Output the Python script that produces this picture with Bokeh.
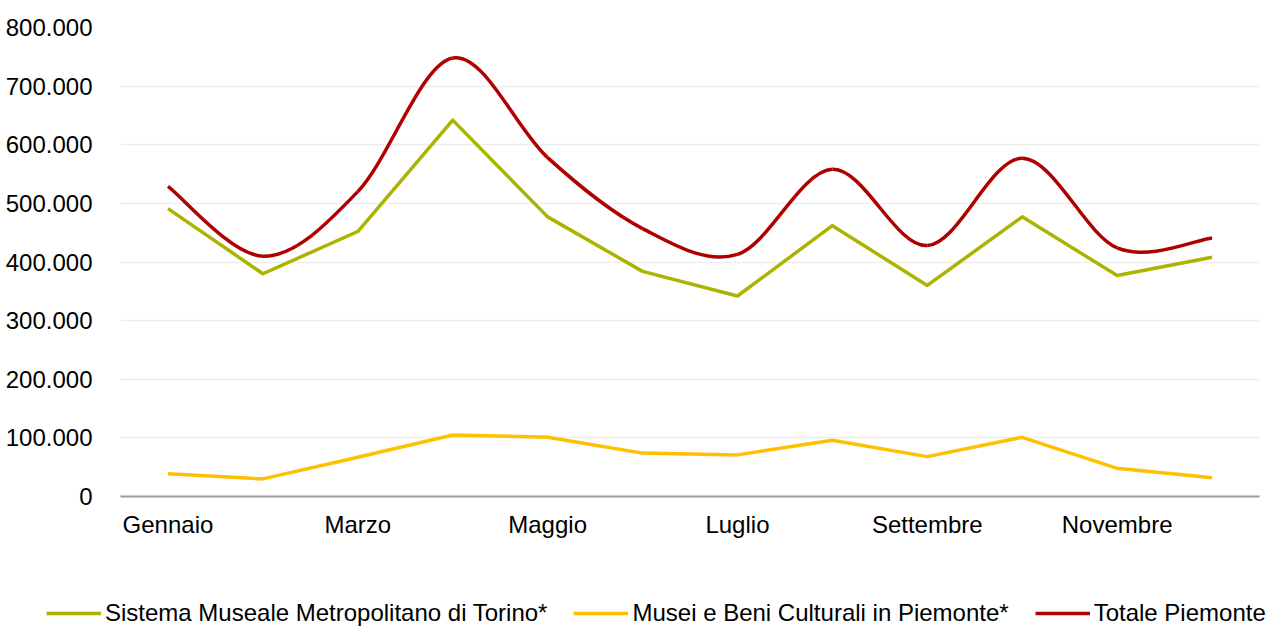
from bokeh.plotting import figure
from bokeh.models import FixedTicker, Legend, LegendItem, CustomJSTickFormatter, Range1d
from bokeh.embed import file_html
from bokeh.resources import INLINE

months = ["Gennaio", "Febbraio", "Marzo", "Aprile", "Maggio", "Giugno",
          "Luglio", "Agosto", "Settembre", "Ottobre", "Novembre", "Dicembre"]
sistema = [491000, 380000, 452000, 642000, 477000, 384000,
           342000, 462000, 360000, 477000, 377000, 408000]
musei = [39000, 30000, 67000, 105000, 101000, 74000,
         71000, 96000, 68000, 101000, 48000, 32000]
totale = [529000, 410000, 520000, 748000, 578000, 457000,
          413000, 558000, 428000, 577000, 424000, 441000]
y_ticks = [0, 100000, 200000, 300000, 400000, 500000, 600000, 700000, 800000]
labels = ["Sistema Museale Metropolitano di Torino*",
          "Musei e Beni Culturali in Piemonte*",
          "Totale Piemonte"]

FONT = "Liberation Sans"
FS = "24px"
C_SIS = "#abb400"
C_MUS = "#ffc000"
C_TOT = "#b00000"

x = list(range(len(months)))

p = figure(width=1271, height=560, output_backend="svg", toolbar_location=None,
           x_range=(-0.5, 11.5), y_range=(0, 800000),
           min_border_left=120, min_border_right=12, min_border_top=27,
           min_border_bottom=64)
p.outline_line_color = None
p.background_fill_color = "white"

# grid
p.xgrid.visible = False
p.ygrid.grid_line_color = "#ededed"
p.ygrid.grid_line_width = 1.5
p.ygrid.ticker = FixedTicker(ticks=y_ticks)

# y axis
p.yaxis.ticker = FixedTicker(ticks=y_ticks)
p.yaxis.formatter = CustomJSTickFormatter(code="""
    return tick == 0 ? '0' : tick.toLocaleString('de-DE');
""")
p.yaxis.axis_line_color = None
p.yaxis.major_tick_line_color = None
p.yaxis.minor_tick_line_color = None
p.yaxis.major_label_standoff = 22
p.yaxis.major_label_text_font = FONT
p.yaxis.major_label_text_font_size = FS
p.yaxis.major_label_text_color = "#000000"

# x axis
p.xaxis.ticker = FixedTicker(ticks=x[::2])
p.xaxis.major_label_overrides = {i: months[i] for i in x[::2]}
p.xaxis.axis_line_color = "#9a9a9a"
p.xaxis.axis_line_width = 2
p.xaxis.major_tick_line_color = None
p.xaxis.minor_tick_line_color = None
p.xaxis.major_label_standoff = 8
p.xaxis.major_label_text_font = FONT
p.xaxis.major_label_text_font_size = FS
p.xaxis.major_label_text_color = "#000000"

p.line(x, sistema, line_color=C_SIS, line_width=3.5, line_join="round")
p.line(x, musei, line_color=C_MUS, line_width=3.5, line_join="round")

# smoothed total line (Catmull-Rom -> cubic Bezier segments)
n = len(totale)
x0s, y0s, x1s, y1s, cx0s, cy0s, cx1s, cy1s = [], [], [], [], [], [], [], []
for i in range(n - 1):
    i0 = max(i - 1, 0)
    i3 = min(i + 2, n - 1)
    xa, ya = x[i], totale[i]
    xb, yb = x[i + 1], totale[i + 1]
    x0s.append(xa); y0s.append(ya); x1s.append(xb); y1s.append(yb)
    cx0s.append(xa + (x[i + 1] - x[i0]) / 6)
    cy0s.append(ya + (totale[i + 1] - totale[i0]) / 6)
    cx1s.append(xb - (x[i3] - x[i]) / 6)
    cy1s.append(yb - (totale[i3] - totale[i]) / 6)
p.bezier(x0=x0s, y0=y0s, x1=x1s, y1=y1s, cx0=cx0s, cy0=cy0s,
         cx1=cx1s, cy1=cy1s, line_color=C_TOT, line_width=3.5)

# legend strip (separate root, so its frame is not aligned to the chart's)
lf = figure(width=1271, height=67, output_backend="svg", toolbar_location=None,
            x_range=Range1d(0, 1), y_range=Range1d(0, 1),
            x_axis_location=None, y_axis_location=None,
            min_border_left=0, min_border_right=0, min_border_top=0,
            min_border_bottom=0)
lf.grid.visible = False
lf.outline_line_color = None
nan = float("nan")
l1 = lf.line([nan], [nan], line_color=C_SIS, line_width=3.5)
l2 = lf.line([nan], [nan], line_color=C_MUS, line_width=3.5)
l3 = lf.line([nan], [nan], line_color=C_TOT, line_width=3.5)
legend = Legend(items=[LegendItem(label=labels[0], renderers=[l1]),
                       LegendItem(label=labels[1], renderers=[l2]),
                       LegendItem(label=labels[2], renderers=[l3])],
                orientation="horizontal", location=(46, 0),
                glyph_width=55, glyph_height=24, label_standoff=4, spacing=26,
                padding=0, margin=0, border_line_color=None,
                background_fill_alpha=0,
                label_text_font=FONT, label_text_font_size=FS,
                label_text_color="#000000", label_height=24)
lf.add_layout(legend)

open("out.html", "w").write(file_html([p, lf], INLINE))
